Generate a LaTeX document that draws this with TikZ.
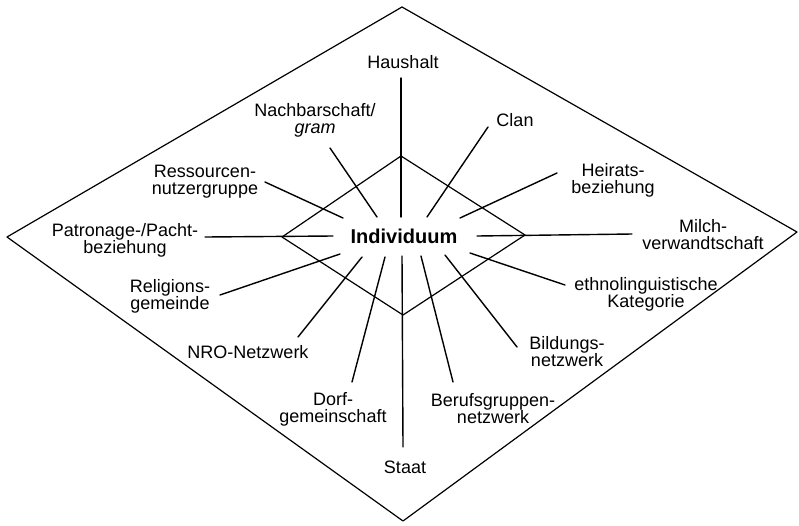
\documentclass[tikz,border=0pt]{standalone}
\usepackage{fontspec}
\setmainfont{Liberation Sans}
\begin{document}
\begin{tikzpicture}[line cap=round,line join=round,x=1pt,y=-1pt,
  lbl/.style={align=center,inner sep=0pt,font=\fontsize{18}{17}\selectfont},
  ray/.style={line width=1.4pt}]
\useasboundingbox (0,0) rectangle (799,525);
% diamonds
\coordinate (OT) at (402,7);
\coordinate (OR) at (797,232);
\coordinate (OB) at (403,521);
\coordinate (OL) at (7,237);
\coordinate (IT) at (401,156);
\coordinate (IR) at (525,235);
\coordinate (IB) at (403,315);
\coordinate (IL) at (282,237);
\draw [line width=1.2pt] (OT)-- (OR)-- (OB)-- (OL)-- cycle;
\draw [line width=1.2pt] (IT)-- (IR)-- (IB)-- (IL)-- cycle;
% labels
\node[inner sep=0pt,font=\fontsize{20}{22}\selectfont\bfseries] (ind) at (404,236) {Individuum};
\node[lbl] (haushalt) at (403,62) {Haushalt};
\node[lbl] (nachbar) at (315,120) {Nachbarschaft/\\\textit{gram}};
\node[lbl] (clan) at (515,120) {Clan};
\node[lbl] (ressourcen) at (205,182) {Ressourcen-\\nutzergruppe};
\node[lbl] (heirat) at (613,180) {Heirats-\\beziehung};
\node[lbl] (patronage) at (125,240) {Patronage-/Pacht-\\beziehung};
\node[lbl] (milch) at (703,235) {Milch-\\verwandtschaft};
\node[lbl] (religion) at (170,296) {Religions-\\gemeinde};
\node[lbl] (ethno) at (646,294) {ethnolinguistische\\Kategorie};
\node[lbl] (nro) at (248,352) {NRO-Netzwerk};
\node[lbl] (bildung) at (567,352) {Bildungs-\\netzwerk};
\node[lbl] (dorf) at (333,409) {Dorf-\\gemeinschaft};
\node[lbl] (beruf) at (493,409) {Berufsgruppen-\\netzwerk};
\node[lbl] (staat) at (405,467) {Staat};
% rays
\coordinate (haushalt1) at (401,217); \coordinate (haushalt2) at (401,78);
\coordinate (nachbar1) at (377,217); \coordinate (nachbar2) at (330,148);
\coordinate (clan1) at (427,217); \coordinate (clan2) at (488,127);
\coordinate (ressourcen1) at (343,218); \coordinate (ressourcen2) at (265,182);
\coordinate (heirat1) at (460,218); \coordinate (heirat2) at (557,173);
\coordinate (patronage1) at (333,236); \coordinate (patronage2) at (205,237);
\coordinate (milch1) at (477,236); \coordinate (milch2) at (632,234);
\coordinate (religion1) at (340,254); \coordinate (religion2) at (220,295);
\coordinate (ethno1) at (470,253); \coordinate (ethno2) at (565,285);
\coordinate (nro1) at (362,257); \coordinate (nro2) at (298,337);
\coordinate (bildung1) at (445,255); \coordinate (bildung2) at (517,347);
\coordinate (dorf1) at (385,257); \coordinate (dorf2) at (352,382);
\coordinate (beruf1) at (421,256); \coordinate (beruf2) at (453,382);
\coordinate (staat1) at (402,256); \coordinate (staat2) at (403,447);
\draw [ray] (haushalt1)-- (haushalt2);
\draw [ray] (nachbar1)-- (nachbar2);
\draw [ray] (clan1)-- (clan2);
\draw [ray] (ressourcen1)-- (ressourcen2);
\draw [ray] (heirat1)-- (heirat2);
\draw [ray] (patronage1)-- (patronage2);
\draw [ray] (milch1)-- (milch2);
\draw [ray] (religion1)-- (religion2);
\draw [ray] (ethno1)-- (ethno2);
\draw [ray] (nro1)-- (nro2);
\draw [ray] (bildung1)-- (bildung2);
\draw [ray] (dorf1)-- (dorf2);
\draw [ray] (beruf1)-- (beruf2);
\draw [ray] (staat1)-- (staat2);
\end{tikzpicture}
\end{document}
